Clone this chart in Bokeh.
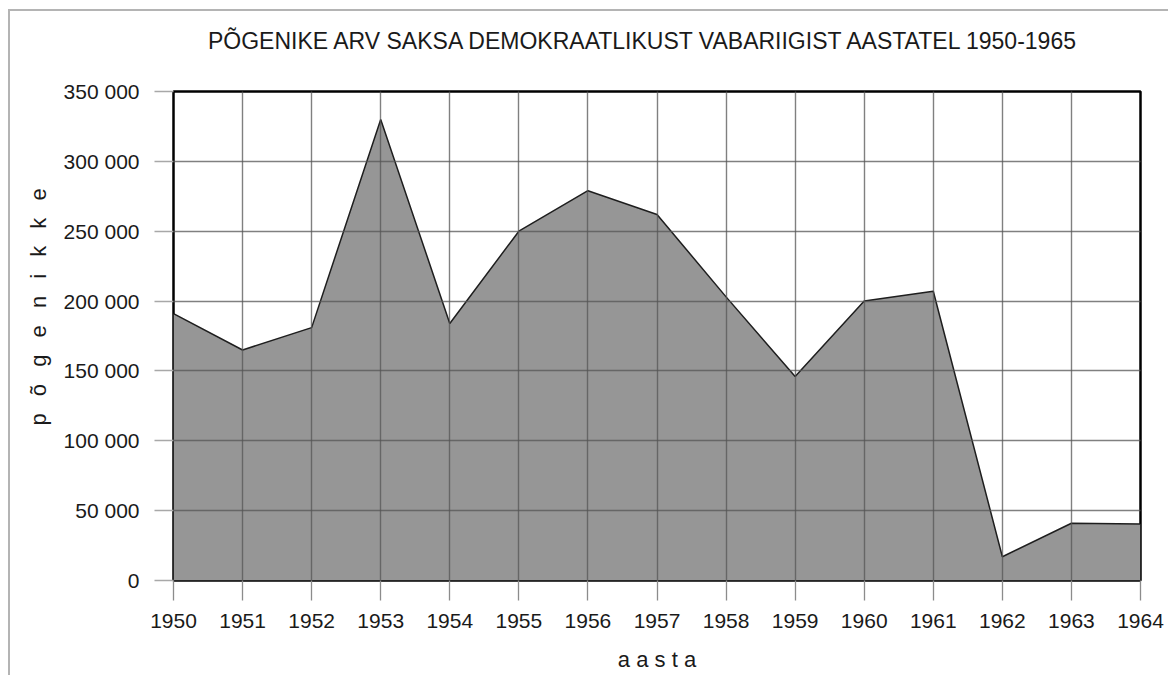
from bokeh.plotting import figure
from bokeh.models import Title, FixedTicker, Range1d, Div
from bokeh.layouts import column
from bokeh.embed import file_html
from bokeh.resources import INLINE

# ---- data ----
years = [1950, 1951, 1952, 1953, 1954, 1955, 1956, 1957, 1958, 1959, 1960, 1961, 1962, 1963, 1964]
refugees = [191000, 165000, 181000, 330000, 184000, 250000, 279000, 262000, 203000,
            146000, 200000, 207000, 17000, 41000, 40500]
y_ticks = [0, 50000, 100000, 150000, 200000, 250000, 300000, 350000]
y_tick_labels = ["0", "50 000", "100 000", "150 000", "200 000", "250 000", "300 000", "350 000"]
x_tick_labels = [str(y) for y in years]
title_text = "PÕGENIKE ARV SAKSA DEMOKRAATLIKUST VABARIIGIST AASTATEL 1950-1965"
ylabel_text = "p \u2002õ \u2002g \u2002e \u2002n \u2002i \u2002k \u2002k \u2002e"
xlabel_text = "a a s t a"

FONT = "Liberation Sans"
INK = "#1a1a1a"

title_div = Div(
    text=('<div style="padding-left:198px;padding-top:16px;font-family:\'Liberation Sans\';'
          'font-size:23px;line-height:28px;color:#1a1a1a;white-space:nowrap">'
          + title_text + '</div>'),
    width=1158, height=45, margin=0)

p = figure(width=1158, height=619, output_backend="svg", toolbar_location=None,
           x_range=Range1d(1950, 1964), y_range=Range1d(0, 350000),
           min_border_left=163, min_border_right=28, min_border_top=35, min_border_bottom=95)
p.background_fill_color = "white"
p.border_fill_color = "white"
p.outline_line_color = "black"
p.outline_line_width = 2.5

p.varea(x=years, y1=0, y2=refugees, fill_color="#969696")
p.line(x=years, y=refugees, line_color="#1e1e1e", line_width=1.5)

for g in (p.xgrid, p.ygrid):
    g.grid_line_color = "#555555"
    g.grid_line_alpha = 0.75
    g.grid_line_width = 1.4
    g.level = "overlay"
p.xgrid.ticker = FixedTicker(ticks=years)
p.ygrid.ticker = FixedTicker(ticks=y_ticks)

xa = p.xaxis[0]
xa.ticker = FixedTicker(ticks=years)
xa.major_label_overrides = {y: s for y, s in zip(years, x_tick_labels)}
xa.axis_line_color = None
xa.major_tick_out = 20
xa.major_tick_in = 0
xa.major_tick_line_color = "#8c8c8c"
xa.major_tick_line_width = 1.3
xa.minor_tick_line_color = None
xa.major_label_standoff = 13
xa.major_label_text_font = FONT
xa.major_label_text_font_size = "21px"
xa.major_label_text_color = INK
xa.axis_label = xlabel_text
xa.axis_label_standoff = 16
xa.axis_label_text_font = FONT
xa.axis_label_text_font_size = "22px"
xa.axis_label_text_font_style = "normal"
xa.axis_label_text_color = INK

ya = p.yaxis[0]
ya.ticker = FixedTicker(ticks=y_ticks)
ya.major_label_overrides = {t: s for t, s in zip(y_ticks, y_tick_labels)}
ya.axis_line_color = None
ya.major_tick_out = 19
ya.major_tick_in = 0
ya.major_tick_line_color = "#a8a8a8"
ya.major_tick_line_width = 1.3
ya.minor_tick_line_color = None
ya.major_label_standoff = 15
ya.major_label_text_font = FONT
ya.major_label_text_font_size = "21px"
ya.major_label_text_color = INK

p.add_layout(Title(text=ylabel_text, align="left", offset=155, standoff=20,
                   text_font=FONT, text_font_size="22px", text_font_style="normal",
                   text_color=INK), "left")

layout = column(title_div, p, spacing=0,
                styles={"margin-left": "8px", "margin-top": "9px",
                        "border-left": "2px solid #b4b4b4", "border-top": "2px solid #b4b4b4",
                        "background-color": "white"})

open("out.html", "w").write(file_html(layout, INLINE))
